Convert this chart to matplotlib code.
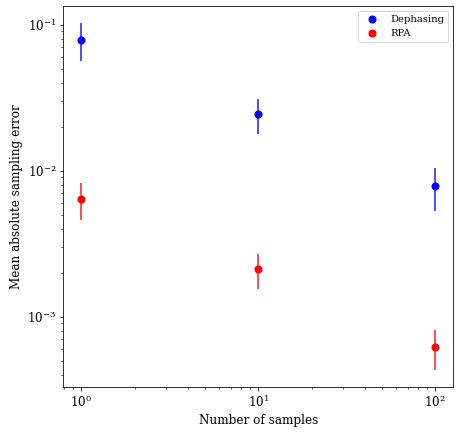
import numpy as np
import matplotlib
matplotlib.use('Agg')
import matplotlib.pyplot as plt

plt.rcParams['font.family'] = 'DejaVu Serif'

samples = [1, 10, 100]
deph_mean = [0.0789, 0.0244, 0.00786]
deph_err = [0.023, 0.0066, 0.0026]
rpa_mean = [0.00637, 0.00211, 0.000623]
rpa_err = [0.0018, 0.00057, 0.00019]

fig, ax = plt.subplots(figsize=(460 / 72, 434 / 72), dpi=72)
fig.subplots_adjust(left=0.138, right=0.985, top=0.986, bottom=0.108)

ax.errorbar(samples, deph_mean, yerr=deph_err, fmt='none', ecolor='blue', alpha=0.8, elinewidth=1.7)
ax.errorbar(samples, rpa_mean, yerr=rpa_err, fmt='none', ecolor='red', alpha=0.8, elinewidth=1.7)
ax.scatter(samples, deph_mean, color='blue', s=50, label='Dephasing', zorder=3)
ax.scatter(samples, rpa_mean, color='red', s=50, label='RPA', zorder=3)

ax.set_xscale('log')
ax.set_yscale('log')
ax.set_xlabel('Number of samples', fontsize=12)
ax.set_ylabel('Mean absolute sampling error', fontsize=12)
ax.tick_params(labelsize=12)
ax.legend(fontsize=10)

fig.savefig('out.png')
